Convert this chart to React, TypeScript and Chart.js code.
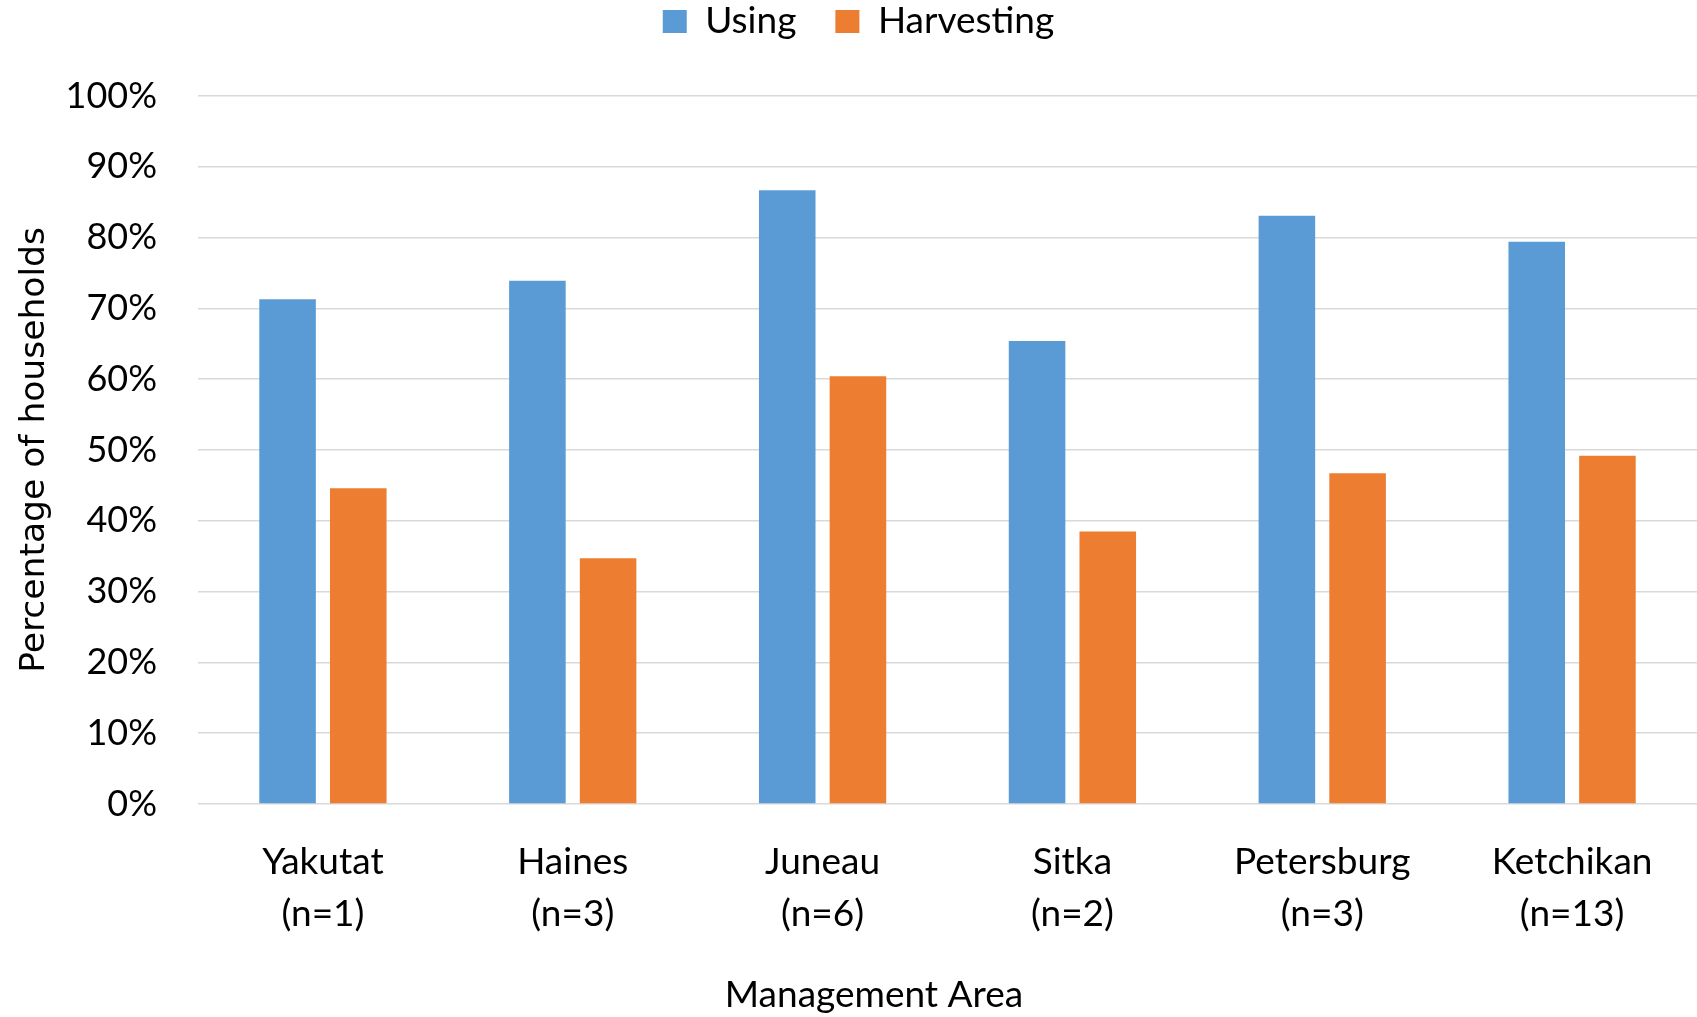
import React, { useEffect, useRef } from 'react';
import { Chart, registerables } from 'chart.js';

Chart.register(...registerables);

const categories: string[][] = [
  ['Yakutat', '(n=1)'],
  ['Haines', '(n=3)'],
  ['Juneau', '(n=6)'],
  ['Sitka', '(n=2)'],
  ['Petersburg', '(n=3)'],
  ['Ketchikan', '(n=13)'],
];
const usingValues = [71.3, 73.9, 86.7, 65.4, 83.1, 79.4];
const harvestingValues = [44.6, 34.7, 60.4, 38.5, 46.7, 49.2];
const seriesNames = ['Using', 'Harvesting'];
const yMin = 0;
const yMax = 100;
const yStep = 10;
const xTitle = 'Management Area';
const yTitle = 'Percentage of households';

const legendTweak = {
  id: 'legendTweak',
  beforeLayout(chart: any) {
    const lg = chart.legend;
    if (lg && !lg._patched) {
      const orig = lg.fit.bind(lg);
      lg.fit = function () {
        orig();
        this.height = 96;
      };
      lg._patched = true;
    }
  },
  afterLayout(chart: any) {
    const lg = chart.legend;
    if (lg) {
      lg.top = -36;
      lg.left += 2;
      lg.right += 2;
    }
  },
};

const xTitlePlugin = {
  id: 'xTitlePlugin',
  afterDraw(chart: any) {
    const ctx = chart.ctx;
    ctx.save();
    ctx.font = '37px Lato';
    ctx.fillStyle = '#000';
    ctx.textAlign = 'center';
    ctx.textBaseline = 'middle';
    ctx.fillText(xTitle, 874, 995);
    ctx.restore();
  },
};

export default function App() {
  const ref = useRef<HTMLCanvasElement | null>(null);
  useEffect(() => {
    document.body.style.margin = '0';
    if (!ref.current) return;
    const chart = new Chart(ref.current, {
      type: 'bar',
      data: {
        labels: categories,
        datasets: [
          {
            label: seriesNames[0],
            data: usingValues,
            backgroundColor: '#5B9BD5',
            borderWidth: 0,
            categoryPercentage: 0.566,
            barPercentage: 0.8,
          },
          {
            label: seriesNames[1],
            data: harvestingValues,
            backgroundColor: '#ED7D31',
            borderWidth: 0,
            categoryPercentage: 0.566,
            barPercentage: 0.8,
          },
        ],
      },
      options: {
        responsive: false,
        animation: false,
        color: '#000',
        layout: { padding: { left: 0, right: -16, top: 0, bottom: 0 } },
        plugins: {
          legend: {
            position: 'top',
            labels: {
              font: { family: 'Lato', size: 37 },
              color: '#000',
              boxWidth: 24,
              boxHeight: 23,
              padding: 39,
            },
          },
          tooltip: { enabled: false },
        },
        scales: {
          x: {
            grid: { display: false },
            border: { display: false },
            ticks: {
              color: '#000',
              font: { family: 'Lato', size: 37, lineHeight: 1.405 },
              padding: 24,
              maxRotation: 0,
              autoSkip: false,
            },
            title: { display: false, text: xTitle },
            afterFit(scale: any) {
              scale.height = 213;
            },
          },
          y: {
            min: yMin,
            max: yMax,
            grid: { color: '#d9d9d9', lineWidth: 1.5, drawTicks: false },
            border: { display: false },
            ticks: {
              stepSize: yStep,
              color: '#000',
              font: { family: 'Lato', size: 36 },
              padding: 41,
              callback: (v: any) => v + '%',
            },
            title: {
              display: true,
              text: yTitle,
              color: '#000',
              font: { family: 'DejaVu Sans', size: 34.5 },
              padding: { top: 14, bottom: 0 },
            },
            afterFit(scale: any) {
              scale.width = 198;
            },
          },
        },
      },
      plugins: [legendTweak, xTitlePlugin],
    } as any);
    return () => chart.destroy();
  }, []);
  return (
    <div style={{ width: 1697, height: 1017 }}>
      <canvas ref={ref} width={1697} height={1017} />
    </div>
  );
}
